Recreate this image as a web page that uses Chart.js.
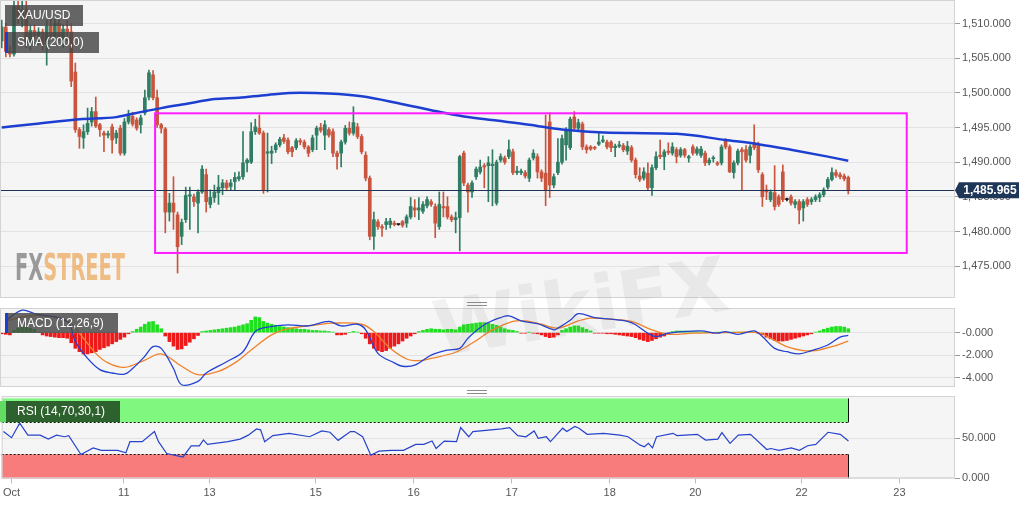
<!DOCTYPE html>
<html>
<head>
<meta charset="utf-8">
<title>XAU/USD</title>
<script src="https://cdn.jsdelivr.net/npm/chart.js@4.4.1/dist/chart.umd.min.js"></script>
<style>
  html, body { margin: 0; padding: 0; background: #fff; }
  #wrap { position: relative; width: 1032px; height: 505px; overflow: hidden; font-family: "Liberation Sans", Arial, sans-serif; }
  #wrap canvas { position: absolute; left: 0; }
  #price { top: -10px; }
  #macd { top: 298px; }
  #rsi { top: 386px; }
  .tag { position: absolute; box-sizing: border-box; height: 21px; line-height: 21px; padding-left: 12px; color: #fff; font-size: 12px; background: rgba(70,70,70,.82); white-space: nowrap; }
  .grip { position: absolute; left: 467px; width: 20px; height: 2px; border-top: 1px solid #8c8c8c; border-bottom: 1px solid #8c8c8c; }
  #fxs { position: absolute; left: 15px; top: 248px; font: bold 38px "DejaVu Sans Condensed", "DejaVu Sans", sans-serif; line-height: 38px; transform-origin: 0 0; white-space: nowrap; }
  #fxs .fx { color: rgba(115,115,115,.7); }
  #fxs .st { color: rgba(236,168,92,.75); }
  #wfx { position: absolute; left: 432px; top: 262px; font: bold 76px "DejaVu Sans", sans-serif; color: rgba(110,110,110,.09); transform: rotate(-9deg); white-space: nowrap; }
</style>
</head>
<body>
<div id="wrap">
  <canvas id="price" width="1032" height="318"></canvas>
  <canvas id="macd" width="1032" height="99"></canvas>
  <canvas id="rsi" width="1032" height="119"></canvas>
  <div id="fxs"><span class="fx">FX</span><span class="st">STREET</span></div>
  <div id="wfx">WikiFX</div>
  <div class="tag" style="left:5px;top:5px;width:78px">XAU/USD</div>
  <div class="tag" style="left:5px;top:32px;width:94px;border-left:3px solid #1d3fd1;padding-left:9px">SMA (200,0)</div>
  <div class="grip" style="top:302px"></div>
  <div class="tag" style="left:5px;top:313px;width:113px;height:20px;line-height:20px;border-left:3px solid #1d3fd1;padding-left:9px">MACD (12,26,9)</div>
  <div class="grip" style="top:390px"></div>
  <div class="tag" style="left:0;top:401px;width:120px;background:rgba(38,84,38,.92);border-left:6px solid #62dc62;padding-left:11px">RSI (14,70,30,1)</div>
</div>
<script>
// hourly candles, one entry per bar (index = bar number)
const opens = [
  1507.5,1509.5,1506.0,1505.6,1512.5,1511.0,1512.0,1507.2,1509.0,1508.3,
  1508.8,1507.0,1509.6,1508.2,1510.0,1508.0,1509.2,1508.8,1503.0,1494.7,
  1493.5,1494.4,1495.8,1497.3,1495.4,1494.2,1493.9,1495.1,1493.5,1494.9,
  1491.3,1495.8,1496.6,1496.1,1495.4,1497.1,1499.4,1502.6,1499.3,1495.4,
  1494.8,1482.8,1484.1,1482.4,1479.3,1481.7,1485.1,1485.0,1484.1,1485.7,
  1488.2,1483.9,1484.9,1485.6,1486.3,1487.0,1486.5,1487.2,1487.6,1487.9,
  1489.9,1490.0,1494.4,1494.9,1494.2,1491.3,1491.3,1491.8,1492.5,1493.5,
  1493.2,1492.1,1492.1,1493.1,1492.9,1492.2,1491.8,1493.9,1495.0,1493.9,
  1494.7,1494.4,1491.3,1491.3,1492.9,1494.9,1494.2,1495.1,1493.7,1491.0,
  1487.7,1479.3,1481.4,1480.7,1481.0,1481.0,1481.2,1481.0,1481.4,1481.2,
  1482.1,1483.4,1483.1,1482.9,1483.7,1484.3,1483.6,1480.7,1483.6,1483.6,
  1482.1,1481.7,1482.0,1491.3,1486.7,1485.7,1487.9,1488.6,1489.5,1489.5,
  1489.5,1484.1,1490.3,1490.6,1490.8,1491.5,1488.5,1488.5,1488.5,1487.7,
  1490.6,1490.8,1488.6,1488.4,1495.8,1486.7,1488.5,1490.0,1492.5,1492.1,
  1496.5,1494.9,1495.5,1492.2,1492.2,1492.1,1492.6,1493.0,1492.9,1492.9,
  1492.1,1492.3,1492.4,1491.6,1492.1,1490.3,1488.0,1487.7,1488.4,1486.3,
  1489.2,1491.0,1490.8,1491.6,1491.3,1491.8,1491.0,1491.8,1490.6,1492.2,
  1491.3,1491.0,1491.3,1489.9,1490.5,1489.9,1489.9,1493.1,1492.2,1488.5,
  1489.9,1491.8,1491.8,1491.0,1492.8,1492.6,1488.2,1486.0,1484.6,1485.6,
  1485.0,1488.6,1484.6,1485.0,1483.9,1484.3,1483.4,1484.6,1484.3,1484.6,
  1484.9,1485.3,1486.4,1487.5,1488.5,1488.2,1488.0,1487.8
]
const highs = [
  1510.5,1510.0,1506.8,1515.0,1515.0,1514.0,1513.5,1509.8,1509.8,1509.4,
  1509.2,1510.5,1510.8,1510.6,1510.5,1509.8,1510.4,1510.0,1504.3,1495.0,
  1495.4,1497.8,1497.9,1499.4,1495.6,1494.5,1494.5,1495.5,1494.6,1495.3,
  1496.3,1497.5,1497.2,1496.4,1496.8,1500.4,1503.3,1503.2,1500.4,1495.6,
  1495.0,1485.5,1487.9,1482.8,1481.8,1486.4,1486.4,1485.4,1486.0,1489.5,
  1489.0,1486.0,1486.7,1488.1,1487.5,1487.4,1487.5,1488.5,1488.6,1494.4,
  1490.5,1495.7,1496.2,1496.8,1494.5,1494.2,1492.3,1492.8,1493.6,1494.0,
  1493.5,1492.3,1493.4,1493.4,1493.2,1492.4,1493.9,1495.2,1495.6,1496.0,
  1495.0,1494.8,1491.6,1493.2,1495.3,1495.8,1498.0,1495.6,1494.0,1491.5,
  1488.0,1482.8,1481.7,1481.0,1481.9,1481.9,1481.5,1481.1,1481.6,1482.4,
  1484.9,1484.6,1484.9,1484.3,1485.0,1484.6,1484.0,1485.7,1485.7,1485.0,
  1482.4,1482.8,1491.0,1491.6,1487.0,1487.3,1489.3,1490.3,1489.8,1490.8,
  1491.8,1490.3,1491.2,1490.9,1493.2,1491.9,1489.4,1489.0,1488.8,1490.6,
  1491.8,1491.2,1488.9,1496.8,1497.1,1488.3,1493.4,1493.9,1495.0,1496.5,
  1497.3,1496.2,1495.8,1492.5,1492.4,1492.3,1494.2,1493.8,1493.2,1493.1,
  1492.6,1493.0,1492.7,1493.0,1492.4,1490.6,1489.2,1489.2,1489.9,1489.6,
  1491.5,1493.2,1491.8,1492.8,1492.8,1492.1,1492.1,1492.0,1491.0,1492.5,
  1492.2,1492.3,1491.6,1490.6,1490.9,1490.1,1492.5,1493.4,1492.5,1490.2,
  1491.9,1492.1,1492.4,1492.5,1495.4,1492.9,1488.5,1486.7,1486.0,1489.5,
  1485.3,1489.6,1484.8,1485.3,1484.6,1484.6,1484.6,1484.9,1484.9,1485.3,
  1485.6,1486.3,1487.8,1489.2,1488.9,1488.5,1488.3,1488.0
]
const lows = [
  1506.5,1505.2,1505.2,1505.3,1510.0,1509.5,1506.5,1506.2,1507.8,1507.0,
  1506.2,1504.0,1507.8,1507.6,1507.5,1506.6,1507.5,1500.9,1494.3,1492.0,
  1492.0,1494.0,1495.2,1495.0,1493.7,1491.5,1493.5,1491.3,1492.7,1491.0,
  1491.0,1495.5,1495.2,1494.6,1494.2,1496.8,1499.0,1499.0,1495.0,1494.2,
  1479.8,1481.5,1480.3,1474.0,1478.1,1481.3,1480.3,1483.6,1479.8,1485.5,
  1482.8,1483.4,1484.2,1483.9,1485.3,1485.9,1486.0,1486.0,1487.3,1487.5,
  1488.6,1489.8,1494.0,1494.0,1485.5,1485.7,1489.8,1491.4,1492.2,1492.7,
  1491.2,1490.8,1491.8,1492.5,1491.9,1490.8,1491.5,1491.8,1494.3,1491.8,
  1493.6,1490.8,1489.0,1489.3,1492.6,1493.9,1493.9,1493.4,1491.2,1487.3,
  1478.8,1477.4,1480.3,1479.3,1480.3,1480.5,1480.8,1480.9,1480.6,1480.6,
  1481.8,1482.1,1481.7,1482.6,1483.4,1483.6,1479.1,1480.3,1482.1,1481.8,
  1481.4,1479.8,1477.2,1486.6,1482.8,1484.9,1487.5,1488.3,1486.3,1484.3,
  1483.7,1483.8,1490.0,1489.7,1490.5,1488.2,1488.2,1488.2,1487.7,1487.2,
  1490.3,1487.7,1487.2,1483.7,1484.9,1486.3,1488.2,1489.7,1490.3,1491.8,
  1494.6,1494.6,1491.8,1491.3,1491.7,1491.8,1492.4,1492.8,1491.9,1491.5,
  1490.8,1492.1,1491.5,1491.1,1490.0,1487.7,1487.2,1487.4,1486.0,1485.2,
  1488.9,1490.5,1488.9,1491.1,1491.0,1489.9,1490.7,1490.7,1490.0,1491.0,
  1491.0,1490.7,1489.5,1489.6,1490.0,1489.5,1489.6,1491.9,1488.5,1487.7,
  1489.6,1486.0,1490.0,1489.9,1491.8,1488.5,1483.6,1484.6,1484.3,1483.1,
  1483.6,1484.3,1484.4,1483.8,1483.4,1481.1,1481.5,1483.6,1483.9,1484.3,
  1484.3,1485.0,1486.1,1487.3,1487.8,1487.6,1487.3,1485.4
]
const closes = [
  1509.5,1506.0,1505.6,1512.5,1511.0,1512.0,1507.2,1509.0,1508.3,1508.8,
  1507.0,1509.6,1508.2,1510.0,1508.0,1509.2,1508.8,1501.7,1494.7,1493.7,
  1494.4,1495.6,1497.3,1495.2,1494.7,1493.9,1494.1,1493.2,1494.2,1491.3,
  1495.8,1496.8,1495.5,1494.9,1496.4,1499.3,1502.9,1499.3,1495.4,1494.9,
  1482.8,1484.1,1482.8,1477.8,1481.3,1485.2,1485.3,1484.3,1485.7,1489.0,
  1484.3,1484.9,1485.7,1486.4,1487.0,1486.3,1487.0,1487.8,1487.9,1489.9,
  1490.3,1494.4,1495.1,1494.2,1486.0,1491.5,1491.6,1492.5,1493.3,1493.0,
  1491.5,1491.5,1493.1,1492.9,1492.2,1491.3,1493.5,1494.9,1494.6,1495.4,
  1493.9,1491.3,1490.8,1492.9,1494.9,1494.2,1495.7,1493.7,1491.5,1487.7,
  1479.3,1481.7,1480.7,1480.5,1481.4,1481.5,1481.0,1481.0,1480.9,1482.1,
  1483.6,1483.1,1483.4,1483.9,1484.6,1483.9,1481.2,1483.9,1483.4,1482.1,
  1481.7,1482.0,1490.8,1487.0,1485.7,1487.0,1489.0,1489.3,1489.3,1489.9,
  1489.7,1490.0,1490.8,1490.0,1491.8,1488.5,1488.7,1488.7,1488.0,1490.3,
  1491.3,1488.6,1487.7,1486.0,1486.7,1487.9,1490.0,1493.4,1494.5,1496.2,
  1494.9,1495.7,1492.2,1491.8,1491.9,1492.0,1492.9,1493.2,1492.2,1492.1,
  1492.3,1492.5,1491.8,1492.3,1490.3,1488.2,1487.5,1488.6,1486.3,1489.2,
  1490.8,1490.8,1491.5,1491.4,1492.2,1490.8,1491.8,1491.0,1490.8,1491.3,
  1491.9,1491.9,1489.9,1490.3,1490.6,1489.7,1492.2,1492.2,1488.6,1489.9,
  1491.6,1491.5,1490.3,1492.2,1492.1,1488.9,1485.0,1485.7,1485.7,1483.6,
  1483.9,1484.6,1484.6,1484.1,1484.3,1483.1,1484.3,1483.9,1484.6,1485.0,
  1485.3,1486.0,1487.5,1488.5,1488.1,1487.9,1487.6,1485.965
]

// SMA (200) read at a few bars
const smaAt = [0, 8, 19, 28, 32, 39, 45, 52, 58, 65, 73, 80, 88, 97, 105, 113, 121, 129, 137, 146, 154, 165, 177, 185, 193, 202, 207]
const smaValues = [1495.0, 1495.5, 1496.2, 1496.5, 1497.0, 1497.8, 1498.4, 1499.1, 1499.3, 1499.7, 1500.0, 1499.9, 1499.5, 1498.5, 1497.5, 1496.6, 1496.0, 1495.4, 1494.7, 1494.3, 1494.2, 1494.1, 1493.2, 1492.6, 1491.8, 1490.8, 1490.2]

// MACD (12,26,9)
const macdHist = [
  -0.1, -0.15, -0.2, 0.2, 0.4, 0.5, 0.5, 0.4, 0.3, 0.05,
  -0.2, -0.3, -0.35, -0.4, -0.45, -0.45, -0.5, -0.9, -1.4, -1.7,
  -1.9, -1.9, -1.8, -1.7, -1.5, -1.35, -1.2, -1.0, -0.8, -0.6,
  -0.4, -0.1, 0.1, 0.3, 0.5, 0.75, 0.95, 1.0, 0.7, 0.35,
  -0.3, -0.8, -1.2, -1.5, -1.45, -1.15, -0.85, -0.55, -0.25, 0.1,
  0.15, 0.2, 0.25, 0.3, 0.35, 0.4, 0.45, 0.5, 0.6, 0.7,
  0.8, 1.1, 1.4, 1.35, 1.0, 0.85, 0.75, 0.65, 0.55, 0.5,
  0.45, 0.4, 0.35, 0.3, 0.3, 0.25, 0.2, 0.2, 0.15, 0.15,
  0.1, 0.05, -0.2, -0.2, -0.15, 0, 0.1, 0.05, -0.1, -0.5,
  -1.0, -1.4, -1.6, -1.7, -1.6, -1.4, -1.2, -1.0, -0.75, -0.5,
  -0.3, -0.1, 0.1, 0.2, 0.3, 0.35, 0.3, 0.3, 0.25, 0.3,
  0.3, 0.25, 0.5, 0.7, 0.75, 0.8, 0.85, 0.9, 0.9, 0.85,
  0.75, 0.65, 0.5, 0.35, 0.25, 0.2, 0.1, -0.05, -0.05, 0.03,
  -0.05, -0.1, -0.2, -0.35, -0.45, -0.4, -0.2, 0.2, 0.35, 0.5,
  0.6, 0.6, 0.45, 0.3, 0.15, -0.05, -0.05, -0.05, -0.1, -0.1,
  -0.15, -0.2, -0.25, -0.3, -0.35, -0.45, -0.6, -0.7, -0.8, -0.7,
  -0.55, -0.4, -0.3, -0.15, 0.1, 0.15, 0.15, 0.15, 0.12, 0.1,
  0.08, 0.05, 0.03, 0.02, -0.05, 0.02, 0.03, 0.05, 0.05, 0.05,
  0.02, 0.02, 0.05, 0.05, 0.02, -0.05, -0.2, -0.4, -0.55, -0.7,
  -0.75, -0.75, -0.7, -0.6, -0.5, -0.4, -0.3, -0.2, -0.1, 0.05,
  0.15, 0.3, 0.4, 0.5, 0.55, 0.55, 0.5, 0.35
]
const macdAt = [1, 5, 8, 16, 18, 21, 24, 27, 30, 32, 35, 37, 39, 42, 44, 48, 50, 55, 59, 62, 65, 70, 75, 80, 83, 87, 89, 92, 96, 98, 101, 105, 109, 112, 114, 118, 122, 124, 127, 131, 135, 136, 139, 141, 145, 149, 153, 155, 158, 160, 163, 167, 171, 175, 177, 180, 184, 186, 189, 192, 195, 198, 202, 205, 207]
const macdValues = [1.1, 2.0, 1.7, 1.0, -0.8, -2.3, -3.3, -3.6, -3.7, -3.2, -2.1, -1.25, -1.4, -3.2, -4.65, -4.35, -3.6, -2.6, -1.7, 0.1, 0.5, 0.7, 0.6, 1.0, 0.6, 0.75, 0.25, -1.85, -2.7, -3.0, -2.9, -2.0, -1.55, -1.4, -0.5, 0.7, 1.35, 1.5, 1.05, 0.8, 0.25, 0.4, 1.1, 1.7, 1.35, 1.2, 1.0, 0.7, -0.05, -0.35, -0.05, 0.1, 0.15, -0.05, 0.1, -0.15, 0.15, -0.35, -1.4, -1.7, -1.9, -1.6, -1.1, -0.4, -0.25]
const signalAt = [1, 8, 16, 19, 23, 26, 30, 35, 39, 44, 48, 53, 57, 61, 66, 70, 77, 81, 88, 91, 95, 99, 102, 105, 111, 115, 120, 125, 128, 132, 136, 141, 144, 149, 154, 159, 163, 169, 177, 185, 188, 192, 196, 199, 203, 207]
const signalValues = [1.05, 1.55, 1.1, -0.05, -1.85, -2.7, -3.1, -2.45, -1.9, -3.0, -3.75, -3.45, -2.7, -1.55, -0.2, 0.35, 0.7, 0.85, 0.75, 0.1, -1.4, -2.35, -2.5, -2.3, -1.75, -0.95, 0.25, 1.0, 1.05, 0.75, 0.4, 1.05, 1.3, 1.2, 1.0, 0.25, -0.15, -0.05, 0, 0, -0.5, -1.25, -1.6, -1.6, -1.25, -0.75]

// RSI (14,70,30)
const rsiAt = [0, 2, 4, 6, 9, 11, 13, 15, 16, 19, 22, 24, 28, 30, 31, 34, 37, 38, 40, 44, 46, 48, 49, 50, 55, 58, 60, 62, 63, 64, 66, 70, 75, 78, 80, 82, 85, 86, 88, 90, 92, 95, 98, 101, 103, 105, 106, 108, 111, 112, 114, 115, 122, 124, 126, 128, 130, 131, 133, 134, 137, 138, 140, 141, 143, 147, 151, 153, 156, 157, 158, 159, 160, 164, 165, 170, 172, 175, 176, 178, 180, 183, 187, 188, 190, 193, 195, 197, 199, 202, 205, 207]
const rsiValues = [58.5, 50.8, 69, 54, 54, 49, 54, 52, 53.4, 29.7, 38, 35, 35, 32, 45.8, 45.8, 58.5, 45.8, 31, 26.7, 40.7, 40.7, 48, 42.4, 45.8, 49, 54, 61.8, 60.6, 45.8, 53.4, 56.3, 52, 59.3, 57.6, 47.5, 58.5, 58.5, 52, 28.9, 34, 35, 35, 42.4, 42.4, 46.6, 37.3, 46.6, 45.8, 63.5, 52, 58.5, 61.8, 63.5, 53.4, 52, 59.3, 50, 52, 45.8, 62.7, 58.5, 64.8, 62.7, 55, 56.3, 54, 52, 41.5, 39.4, 43.7, 38, 52, 56.3, 53.4, 55, 47.9, 49, 57.2, 43.7, 54, 55, 36, 37.3, 35, 38, 35, 40.7, 42.4, 57.6, 55, 46.6]
const rsiHigh = 70
const rsiLow = 30

// axes
const dayLabels = ['Oct', '11', '13', '15', '16', '17', '18', '20', '22', '23']
const dayAt = [2, 29.5, 50.5, 76.5, 100.5, 124.5, 148.5, 169.5, 195.5, 219.5]
const priceTickValues = [1510, 1505, 1500, 1495, 1490, 1485, 1480, 1475]
const priceTickLabels = ['1,510.000', '1,505.000', '1,500.000', '1,495.000', '1,490.000', '1,485.000', '1,480.000', '1,475.000']
const macdTickValues = [0, -2, -4]
const macdTickLabels = ['-0.000', '-2.000', '-4.000']
const rsiTickValues = [50, 0]
const rsiTickLabels = ['50.000', '0.000']

// consolidation range drawn on the price panel
const rangeFrom = 37.5
const rangeTo = 221.3
const rangeHigh = 1497.05
const rangeLow = 1476.9

const xMin = -0.42
const xMax = 233.1
const upColor = '#2f7d63'
const downColor = '#c9553e'
const dojiColor = '#1a1a1a'

Chart.defaults.font.family = '"Liberation Sans", Arial, sans-serif'
Chart.defaults.font.size = 11
Chart.defaults.color = '#555'
Chart.defaults.animation = false
Chart.defaults.events = []
Chart.defaults.plugins.legend.display = false
Chart.defaults.plugins.tooltip.enabled = false

const bars = closes.map((c, i) => i)
const lastClose = closes[closes.length - 1]
const candleColor = i => closes[i] > opens[i] ? upColor : (closes[i] < opens[i] ? downColor : dojiColor)
const points = (xs, ys) => xs.map((x, k) => ({ x, y: ys[k] }))
const priceFmt = v => new Intl.NumberFormat('en-US', { minimumFractionDigits: 3, maximumFractionDigits: 3 }).format(v)

const xHidden = { type: 'linear', min: xMin, max: xMax, bounds: 'data', offset: false, display: false }

const rightAxis = (min, max, values, labels) => ({
  type: 'linear',
  position: 'right',
  min,
  max,
  bounds: 'data',
  afterFit: s => { s.width = 77 },
  afterBuildTicks: s => { s.ticks = values.map(v => ({ value: v })) },
  ticks: { callback: (v, i) => labels[i], padding: 2, autoSkip: false },
  grid: { color: '#e2e2e2', tickColor: '#9a9a9a', tickLength: 5 },
  border: { display: false }
})

const panelFrame = {
  id: 'panelFrame',
  beforeDraw: chart => {
    const { ctx, chartArea: a } = chart
    ctx.save()
    ctx.fillStyle = '#f5f5f5'
    ctx.fillRect(a.left, a.top, a.width, a.height)
    ctx.restore()
  },
  afterDraw: chart => {
    const { ctx, chartArea: a } = chart
    ctx.save()
    ctx.strokeStyle = '#d3d3d3'
    ctx.lineWidth = 1
    ctx.strokeRect(a.left + 0.5, a.top + 0.5, a.width - 1, a.height - 1)
    ctx.restore()
  }
}

const priceMarks = {
  id: 'priceMarks',
  afterDatasetsDraw: chart => {
    const { ctx, chartArea: a, scales: { x, y } } = chart
    ctx.save()
    const py = Math.round(y.getPixelForValue(lastClose)) + 0.5
    ctx.strokeStyle = '#1f3354'
    ctx.lineWidth = 1
    ctx.beginPath()
    ctx.moveTo(a.left, py)
    ctx.lineTo(a.right, py)
    ctx.stroke()

    const bx1 = x.getPixelForValue(rangeFrom)
    const bx2 = x.getPixelForValue(rangeTo)
    const by1 = y.getPixelForValue(rangeHigh)
    const by2 = y.getPixelForValue(rangeLow)
    ctx.strokeStyle = '#ff1cff'
    ctx.lineWidth = 2
    ctx.strokeRect(bx1, by1, bx2 - bx1, by2 - by1)
    ctx.restore()
  },
  afterDraw: chart => {
    const { ctx, chartArea: a, scales: { y } } = chart
    const ty = y.getPixelForValue(lastClose)
    ctx.save()
    ctx.fillStyle = '#1e3658'
    ctx.beginPath()
    ctx.moveTo(a.right, ty)
    ctx.lineTo(a.right + 4, ty - 8)
    ctx.lineTo(a.right + 64, ty - 8)
    ctx.lineTo(a.right + 64, ty + 8)
    ctx.lineTo(a.right + 4, ty + 8)
    ctx.closePath()
    ctx.fill()
    ctx.fillStyle = '#fff'
    ctx.font = 'bold 12px "Liberation Sans", Arial, sans-serif'
    ctx.textAlign = 'center'
    ctx.textBaseline = 'middle'
    ctx.fillText(priceFmt(lastClose), a.right + 35, ty + 0.5)
    ctx.restore()
  }
}

const rsiZones = {
  id: 'rsiZones',
  beforeDatasetsDraw: chart => {
    const { ctx, chartArea: a, scales: { x, y } } = chart
    const xr = x.getPixelForValue(closes.length - 1)
    const yTop = y.getPixelForValue(100)
    const yHi = y.getPixelForValue(rsiHigh)
    const yLo = y.getPixelForValue(rsiLow)
    const yBot = y.getPixelForValue(0)
    ctx.save()
    ctx.fillStyle = '#80f880'
    ctx.fillRect(a.left, yTop, xr - a.left, yHi - yTop)
    ctx.fillStyle = '#f97c7c'
    ctx.fillRect(a.left, yLo, xr - a.left, yBot - yLo)
    ctx.strokeStyle = '#111'
    ctx.lineWidth = 1
    ctx.setLineDash([2, 2])
    ctx.beginPath()
    ctx.moveTo(a.left, Math.round(yHi) + 0.5)
    ctx.lineTo(xr, Math.round(yHi) + 0.5)
    ctx.moveTo(a.left, Math.round(yLo) + 0.5)
    ctx.lineTo(xr, Math.round(yLo) + 0.5)
    ctx.stroke()
    ctx.setLineDash([])
    ctx.beginPath()
    ctx.moveTo(Math.round(xr) + 0.5, yTop)
    ctx.lineTo(Math.round(xr) + 0.5, yHi)
    ctx.moveTo(Math.round(xr) + 0.5, yLo)
    ctx.lineTo(Math.round(xr) + 0.5, yBot)
    ctx.stroke()
    ctx.restore()
  }
}

new Chart(document.getElementById('price'), {
  type: 'bar',
  data: {
    datasets: [
      {
        type: 'line',
        data: points(smaAt, smaValues),
        borderColor: '#1d3fd1',
        borderWidth: 2.5,
        pointRadius: 0,
        cubicInterpolationMode: 'monotone',
        order: 0
      },
      {
        data: bars.map(i => ({ x: i, y: [opens[i], closes[i]] })),
        backgroundColor: bars.map(candleColor),
        barThickness: 3,
        minBarLength: 1,
        grouped: false,
        order: 1
      },
      {
        data: bars.map(i => ({ x: i, y: [lows[i], highs[i]] })),
        backgroundColor: bars.map(candleColor),
        barThickness: 1,
        grouped: false,
        order: 2
      }
    ]
  },
  options: {
    responsive: false,
    layout: { padding: { top: 10, bottom: 10, left: 0, right: 0 } },
    scales: {
      x: xHidden,
      y: rightAxis(1470.4, 1513.4, priceTickValues, priceTickLabels)
    }
  },
  plugins: [panelFrame, priceMarks]
})

new Chart(document.getElementById('macd'), {
  type: 'bar',
  data: {
    datasets: [
      {
        type: 'line',
        data: points(macdAt, macdValues),
        borderColor: '#2442d0',
        borderWidth: 1.3,
        pointRadius: 0,
        tension: 0.35,
        order: 0
      },
      {
        type: 'line',
        data: points(signalAt, signalValues),
        borderColor: '#f0822a',
        borderWidth: 1.3,
        pointRadius: 0,
        tension: 0.35,
        order: 1
      },
      {
        data: bars.map(i => ({ x: i, y: macdHist[i] })),
        backgroundColor: macdHist.map(v => v >= 0 ? '#1fe01f' : '#ee1a1a'),
        barThickness: 3,
        grouped: false,
        order: 2
      }
    ]
  },
  options: {
    responsive: false,
    layout: { padding: { top: 10, bottom: 10, left: 0, right: 0 } },
    scales: {
      x: xHidden,
      y: rightAxis(-4.85, 2.2, macdTickValues, macdTickLabels)
    }
  },
  plugins: [panelFrame]
})

new Chart(document.getElementById('rsi'), {
  type: 'line',
  data: {
    datasets: [{
      data: points(rsiAt, rsiValues),
      borderColor: '#2643cc',
      borderWidth: 1.2,
      pointRadius: 0,
      tension: 0
    }]
  },
  options: {
    responsive: false,
    layout: { padding: { top: 10, bottom: 0, left: 0, right: 0 } },
    scales: {
      x: {
        type: 'linear',
        min: xMin,
        max: xMax,
        bounds: 'data',
        offset: false,
        afterBuildTicks: s => { s.ticks = dayAt.map(v => ({ value: v })) },
        afterFit: s => { s.height = 26.7 },
        ticks: { callback: (v, i) => dayLabels[i], autoSkip: false, maxRotation: 0, padding: 3 },
        grid: { drawOnChartArea: false, tickLength: 5, tickColor: '#bbb' },
        border: { display: false }
      },
      y: rightAxis(0, 103, rsiTickValues, rsiTickLabels)
    }
  },
  plugins: [panelFrame, rsiZones]
})

const fxs = document.getElementById('fxs')
fxs.style.transform = `scaleX(${110 / fxs.offsetWidth})`
</script>
</body>
</html>
